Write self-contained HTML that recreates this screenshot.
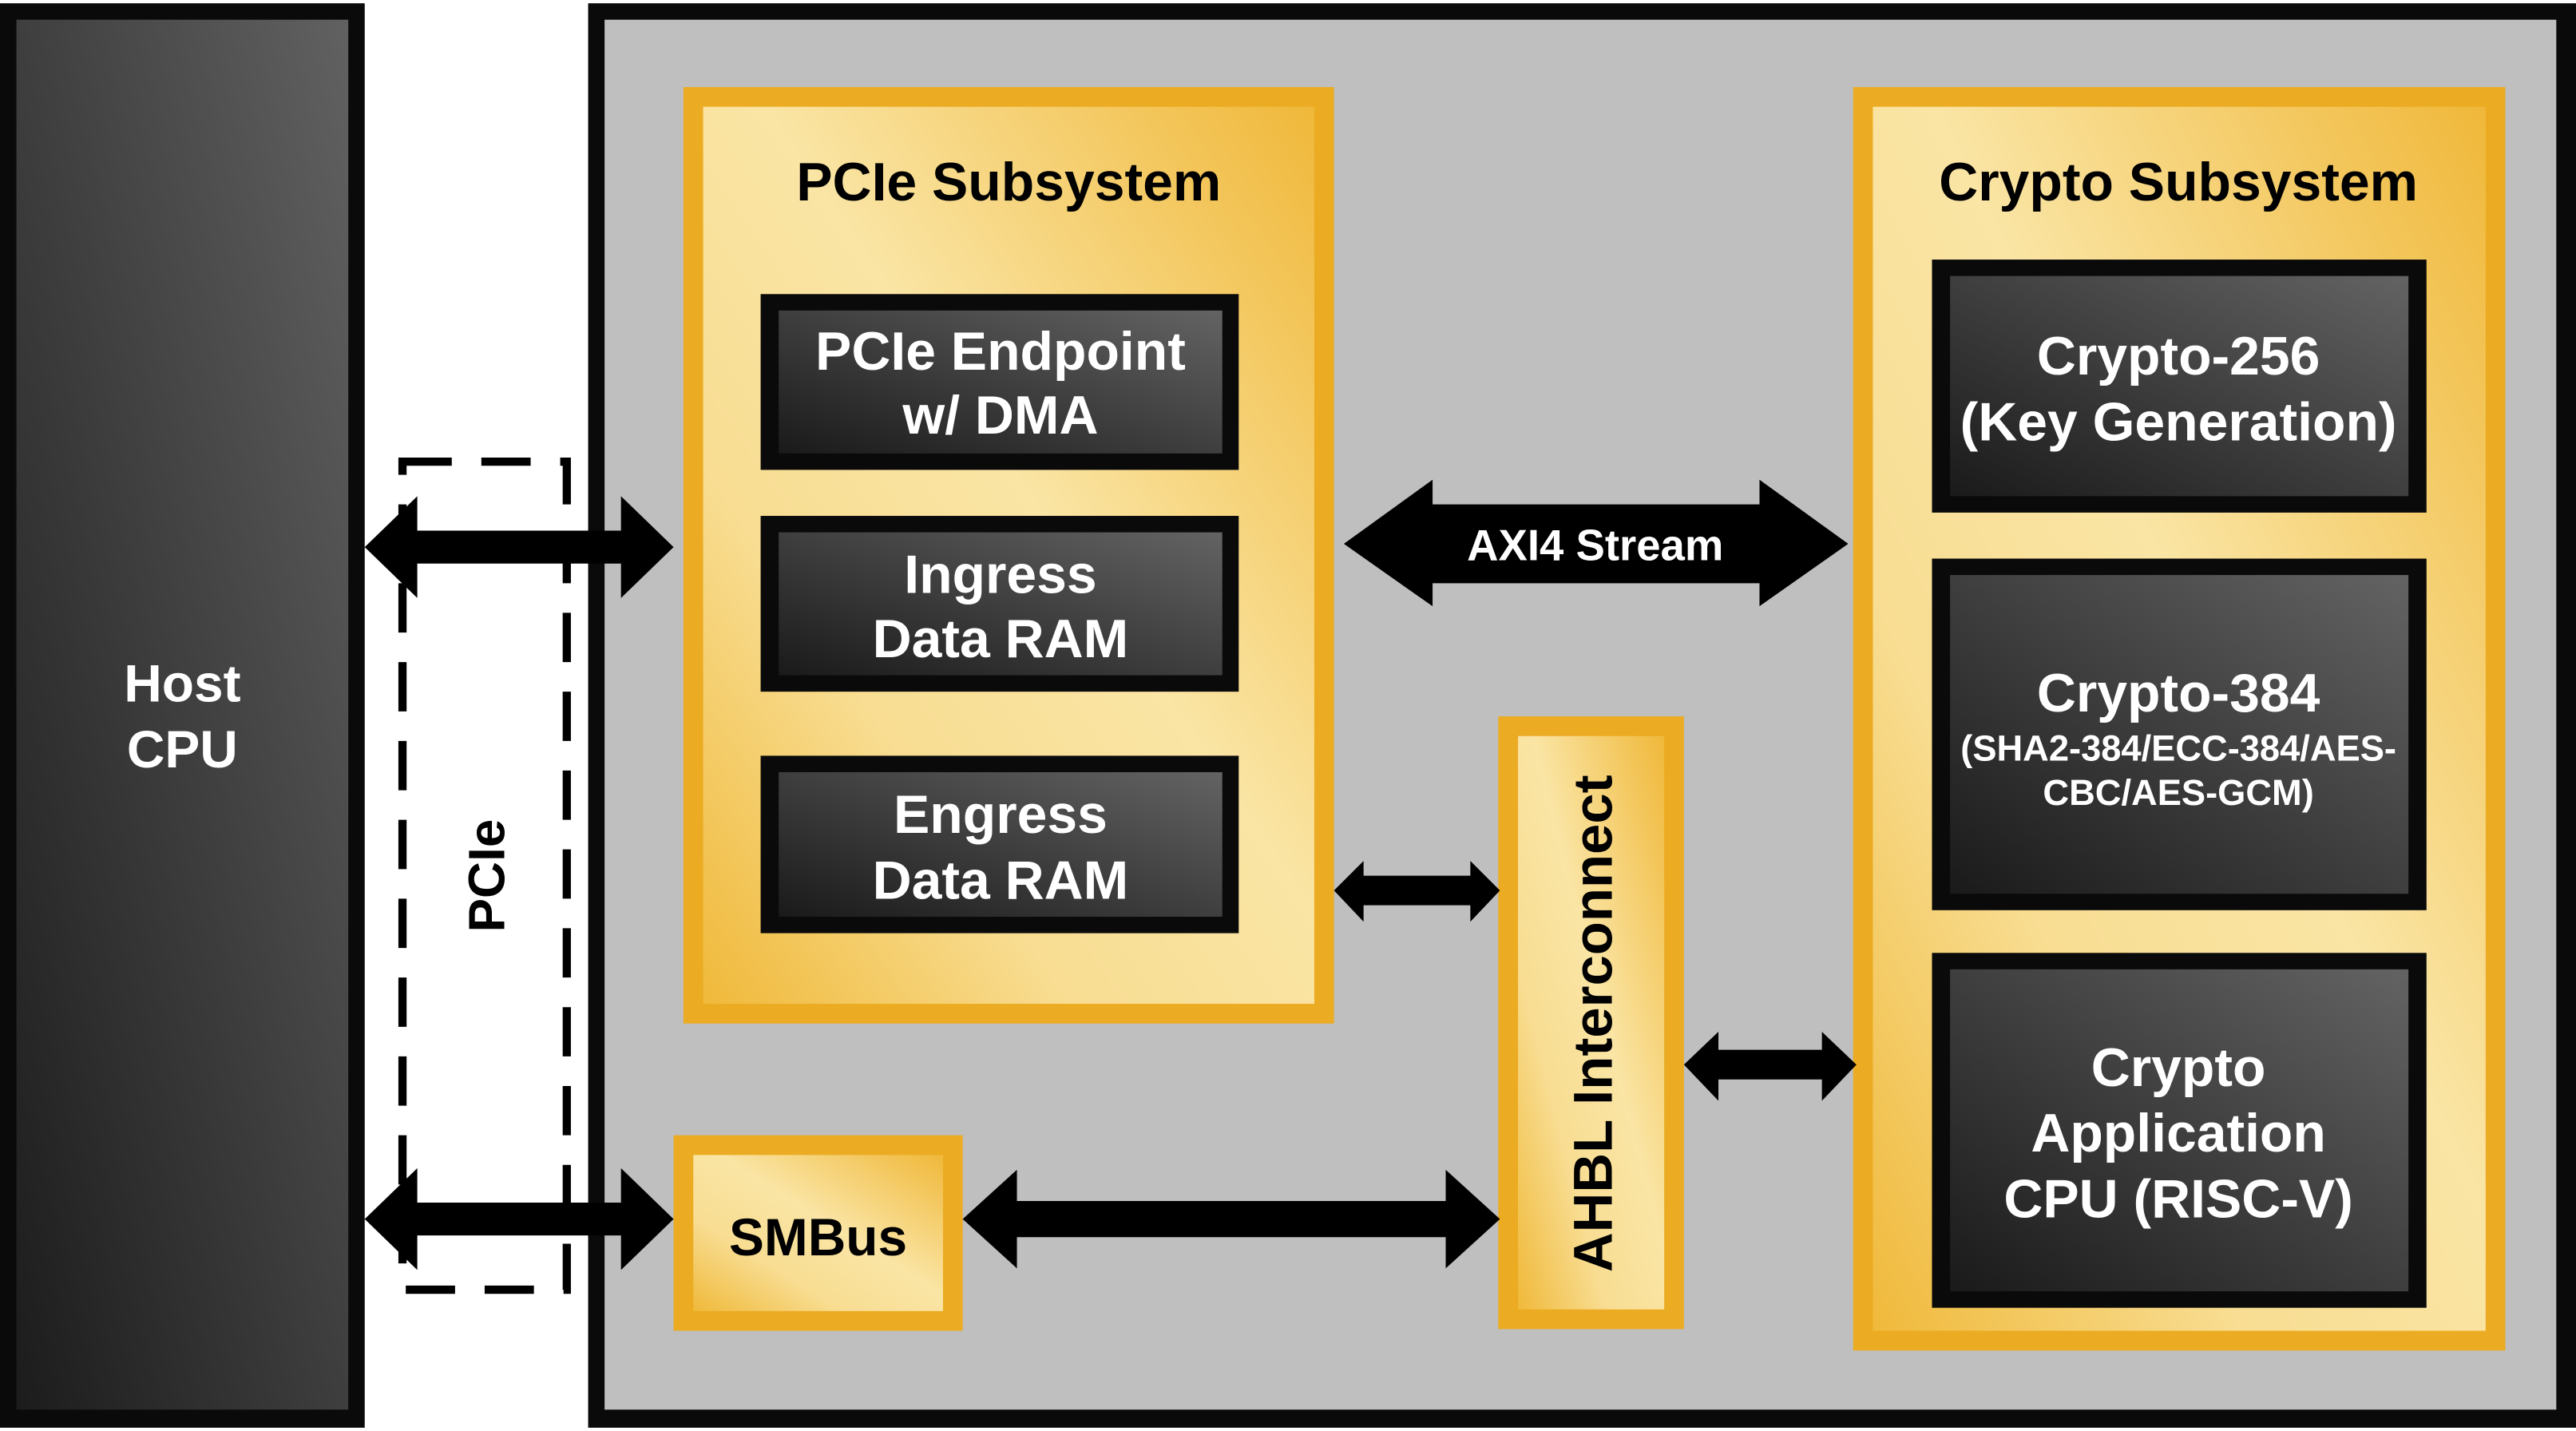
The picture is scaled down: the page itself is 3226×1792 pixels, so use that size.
<!DOCTYPE html>
<html><head><meta charset="utf-8"><style>html,body{margin:0;padding:0;background:#fff}svg{display:block}</style></head>
<body>
<svg width="3226" height="1792" viewBox="0 0 1568 871" preserveAspectRatio="none" xmlns="http://www.w3.org/2000/svg" font-family="Liberation Sans, Arial, sans-serif" font-weight="bold">
<defs>
<linearGradient id="dk" x1="0" y1="1" x2="1" y2="0"><stop offset="0" stop-color="#1a1a1a"/><stop offset="1" stop-color="#636363"/></linearGradient>
<linearGradient id="host" x1="0" y1="1" x2="1" y2="0"><stop offset="0" stop-color="#1c1c1c"/><stop offset="1" stop-color="#616161"/></linearGradient>
<linearGradient id="yl" x1="0" y1="1" x2="1" y2="0"><stop offset="0" stop-color="#f0b93a"/><stop offset="0.3" stop-color="#f8dd92"/><stop offset="0.55" stop-color="#fae5a5"/><stop offset="1" stop-color="#f0b83a"/></linearGradient>
</defs>
<rect x="0" y="0" width="1568" height="871" fill="#fff"/>
<rect x="0" y="2" width="222" height="867" fill="#0a0a0a"/>
<rect x="10" y="12" width="202" height="846" fill="url(#host)"/>
<text x="111" y="427" fill="#fff" font-size="32" text-anchor="middle">Host</text>
<text x="111" y="467" fill="#fff" font-size="32" text-anchor="middle">CPU</text>
<rect x="358" y="2" width="1210" height="867" fill="#0a0a0a"/>
<rect x="368" y="12" width="1188" height="846" fill="#bfbfbf"/>
<rect x="245" y="281" width="100" height="504" fill="none" stroke="#000" stroke-width="5" stroke-dasharray="30,18"/>
<text transform="translate(307,533) rotate(-90)" font-size="31" text-anchor="middle" fill="#000">PCIe</text>
<rect x="416" y="53" width="396" height="570" fill="#ebab22"/>
<rect x="428" y="65" width="372" height="546" fill="url(#yl)"/>
<text x="614" y="122" font-size="33" text-anchor="middle" fill="#000">PCIe Subsystem</text>
<rect x="463" y="179" width="291" height="107" fill="#0a0a0a"/><rect x="474" y="189" width="270" height="87" fill="url(#dk)"/>
<text x="609" y="225" font-size="33" text-anchor="middle" fill="#fff">PCIe Endpoint</text>
<text x="609" y="264" font-size="33" text-anchor="middle" fill="#fff">w/ DMA</text>
<rect x="463" y="314" width="291" height="107" fill="#0a0a0a"/><rect x="474" y="324" width="270" height="87" fill="url(#dk)"/>
<text x="609" y="361" font-size="33" text-anchor="middle" fill="#fff">Ingress</text>
<text x="609" y="400" font-size="33" text-anchor="middle" fill="#fff">Data RAM</text>
<rect x="463" y="460" width="291" height="108" fill="#0a0a0a"/><rect x="474" y="470" width="270" height="88" fill="url(#dk)"/>
<text x="609" y="507" font-size="33" text-anchor="middle" fill="#fff">Engress</text>
<text x="609" y="547" font-size="33" text-anchor="middle" fill="#fff">Data RAM</text>
<rect x="1128" y="53" width="397" height="769" fill="#ebab22"/>
<rect x="1140" y="65" width="373" height="745" fill="url(#yl)"/>
<text x="1326" y="122" font-size="33" text-anchor="middle" fill="#000">Crypto Subsystem</text>
<rect x="1176" y="158" width="301" height="154" fill="#0a0a0a"/><rect x="1187" y="168" width="279" height="134" fill="url(#dk)"/>
<text x="1326" y="228" font-size="33" text-anchor="middle" fill="#fff">Crypto-256</text>
<text x="1326" y="268" font-size="33" text-anchor="middle" fill="#fff">(Key Generation)</text>
<rect x="1176" y="340" width="301" height="214" fill="#0a0a0a"/><rect x="1187" y="350" width="279" height="194" fill="url(#dk)"/>
<text x="1326" y="433" font-size="33" text-anchor="middle" fill="#fff">Crypto-384</text>
<text x="1326" y="463" font-size="22" text-anchor="middle" fill="#fff">(SHA2-384/ECC-384/AES-</text>
<text x="1326" y="490" font-size="22" text-anchor="middle" fill="#fff">CBC/AES-GCM)</text>
<rect x="1176" y="580" width="301" height="216" fill="#0a0a0a"/><rect x="1187" y="590" width="279" height="196" fill="url(#dk)"/>
<text x="1326" y="661" font-size="33" text-anchor="middle" fill="#fff">Crypto</text>
<text x="1326" y="701" font-size="33" text-anchor="middle" fill="#fff">Application</text>
<text x="1326" y="741" font-size="33" text-anchor="middle" fill="#fff">CPU (RISC-V)</text>
<rect x="912" y="436" width="113" height="373" fill="#ebab22"/>
<rect x="924" y="448" width="89" height="349" fill="url(#yl)"/>
<text transform="translate(981,623) rotate(-90)" font-size="33.5" text-anchor="middle" fill="#000">AHBL Interconnect</text>
<rect x="410" y="691" width="176" height="119" fill="#ebab22"/>
<rect x="422" y="703" width="152" height="95" fill="url(#yl)"/>
<text x="498" y="764" font-size="32" text-anchor="middle" fill="#000">SMBus</text>
<polygon points="222,333 254,302 254,323 378,323 378,302 410,333 378,364 378,343 254,343 254,364" fill="#000"/>
<polygon points="222,742 254,711 254,732 378,732 378,711 410,742 378,773 378,752 254,752 254,773" fill="#000"/>
<polygon points="818,331 872,292 872,307 1071,307 1071,292 1125,331 1071,369 1071,355 872,355 872,369" fill="#000"/>
<text x="971" y="341" font-size="26.5" text-anchor="middle" fill="#fff">AXI4 Stream</text>
<polygon points="812,542 830,524 830,533 895,533 895,524 913,542 895,561 895,551 830,551 830,561" fill="#000"/>
<polygon points="1025,648 1046,628 1046,639 1109,639 1109,628 1130,648 1109,670 1109,657 1046,657 1046,670" fill="#000"/>
<polygon points="586,742 619,712 619,731 880,731 880,712 913,742 880,772 880,753 619,753 619,772" fill="#000"/>
</svg>
</body></html>
